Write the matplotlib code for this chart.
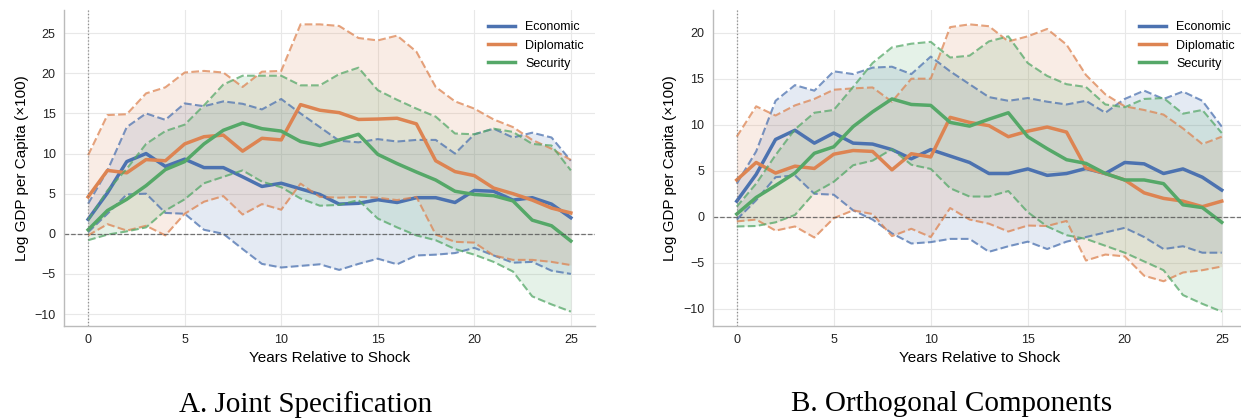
import matplotlib
matplotlib.use("Agg")
import matplotlib.pyplot as plt
import numpy as np

plt.rcParams["font.family"] = ["Liberation Sans", "DejaVu Sans"]

years = np.arange(0, 26)

# ---- Panel A: joint specification ----
a_econ = [1.8, 5.1, 9.0, 10.0, 8.4, 9.3, 8.25, 8.25, 7.1, 5.9, 6.3, 5.6, 4.9, 3.7,
          3.8, 4.25, 3.9, 4.5, 4.5, 3.9, 5.4, 5.3, 4.2, 4.5, 3.7, 2.0]
a_econ_hi = [3.75, 7.9, 13.3, 15.0, 14.2, 16.25, 15.9, 16.5, 16.2, 15.5, 16.8, 15.0, 13.3, 11.6,
             11.4, 11.8, 11.5, 11.7, 11.7, 10.0, 12.4, 13.1, 12.0, 12.6, 12.0, 9.1]
a_econ_lo = [0.2, 2.5, 4.9, 5.0, 2.6, 2.5, 0.5, 0.0, -1.9, -3.75, -4.2, -4.0, -3.8, -4.5,
             -3.75, -3.1, -3.8, -2.7, -2.6, -2.4, -1.75, -2.7, -3.6, -3.5, -4.6, -5.0]

a_dipl = [4.6, 7.9, 7.6, 9.25, 9.1, 11.2, 12.1, 12.3, 10.3, 11.9, 11.7, 16.1, 15.4, 15.1,
          14.25, 14.3, 14.4, 13.7, 9.1, 7.75, 7.25, 5.7, 5.0, 4.2, 3.2, 2.6]
a_dipl_hi = [9.8, 14.8, 14.9, 17.5, 18.25, 20.1, 20.3, 20.1, 18.3, 20.2, 20.3, 26.1, 26.1, 25.9,
             24.4, 24.1, 24.7, 22.7, 18.3, 16.5, 15.6, 14.25, 13.3, 11.7, 10.6, 9.2]
a_dipl_lo = [-0.2, 1.2, 0.4, 1.0, -0.2, 2.5, 4.0, 4.7, 2.4, 3.7, 3.0, 6.25, 4.6, 4.5,
             4.6, 4.5, 4.2, 4.6, -0.1, -1.0, -1.1, -2.7, -3.25, -3.25, -3.5, -3.9]

a_secu = [0.5, 2.9, 4.3, 6.0, 8.0, 9.0, 11.2, 12.9, 13.8, 13.1, 12.8, 11.5, 11.0, 11.7,
          12.4, 9.9, 8.75, 7.7, 6.7, 5.3, 4.9, 4.75, 4.1, 1.7, 1.0, -0.9]
a_secu_hi = [1.7, 5.4, 8.1, 11.2, 12.8, 13.6, 16.0, 18.6, 19.7, 19.7, 19.7, 18.5, 18.5, 19.9,
             20.7, 17.9, 16.7, 15.6, 14.6, 12.5, 12.4, 13.1, 12.7, 11.2, 11.0, 7.9]
a_secu_lo = [-0.8, -0.1, 0.3, 0.8, 2.9, 4.3, 6.3, 7.1, 7.9, 6.5, 5.8, 4.4, 3.5, 3.6,
             4.2, 1.9, 0.8, -0.2, -0.8, -1.9, -2.6, -3.5, -4.7, -7.8, -8.8, -9.7]

# ---- Panel B: orthogonal components ----
b_econ = [1.7, 4.6, 8.4, 9.4, 8.0, 9.1, 8.0, 7.9, 7.3, 6.3, 7.3, 6.6, 5.9, 4.7,
          4.7, 5.2, 4.5, 4.7, 5.25, 4.7, 5.9, 5.75, 4.7, 5.2, 4.3, 2.9]
b_econ_hi = [3.6, 7.1, 12.6, 14.3, 13.7, 15.8, 15.5, 16.2, 16.3, 15.5, 17.4, 15.8, 14.4, 13.0,
             12.6, 12.9, 12.5, 12.2, 12.6, 11.3, 12.8, 13.7, 12.8, 13.6, 12.6, 9.8]
b_econ_lo = [-0.3, 1.8, 4.3, 4.5, 2.5, 2.4, 0.7, -0.3, -1.8, -2.9, -2.75, -2.4, -2.4, -3.8,
             -3.2, -2.7, -3.5, -2.7, -2.2, -1.7, -1.2, -2.2, -3.5, -3.2, -3.9, -3.9]

b_dipl = [4.0, 5.9, 4.75, 5.5, 5.25, 6.8, 7.2, 7.1, 5.1, 6.85, 6.5, 10.8, 10.25, 9.9,
          8.7, 9.3, 9.75, 9.2, 5.3, 4.7, 4.0, 2.6, 2.0, 1.7, 1.1, 1.7]
b_dipl_hi = [8.7, 12.0, 11.0, 12.1, 12.8, 13.8, 13.95, 14.05, 12.5, 15.0, 15.0, 20.6, 20.9, 20.7,
             19.05, 19.6, 20.4, 18.7, 15.4, 13.3, 12.0, 11.6, 11.1, 9.6, 7.9, 8.7]
b_dipl_lo = [-0.5, -0.3, -1.5, -1.05, -2.25, -0.15, 0.7, 0.3, -2.1, -1.3, -2.2, 0.95, -0.3, -0.75,
             -1.6, -0.95, -1.0, -0.45, -4.75, -4.1, -4.3, -6.4, -7.0, -6.05, -5.8, -5.4]

b_secu = [0.3, 2.1, 3.4, 4.75, 6.9, 7.6, 9.8, 11.4, 12.8, 12.2, 12.1, 10.25, 9.85, 10.6,
          11.3, 8.7, 7.4, 6.2, 5.8, 4.7, 4.0, 4.0, 3.6, 1.3, 1.0, -0.6]
b_secu_hi = [1.1, 3.6, 6.7, 9.5, 11.3, 11.6, 14.1, 16.7, 18.4, 18.8, 19.0, 17.3, 17.5, 19.05,
             19.6, 16.7, 15.3, 14.4, 14.1, 12.2, 11.9, 12.8, 12.9, 11.2, 11.6, 9.1]
b_secu_lo = [-1.05, -1.0, -0.6, 0.2, 2.6, 3.8, 5.6, 6.1, 7.35, 5.65, 5.2, 3.1, 2.2, 2.2,
             2.8, 0.5, -1.05, -2.0, -2.4, -3.15, -3.9, -4.85, -5.8, -8.5, -9.45, -10.3]

labels = ["Economic", "Diplomatic", "Security"]
colors = ["#4C72B0", "#DD8452", "#55A868"]
captions = ["A. Joint Specification", "B. Orthogonal Components"]

panels = [
    [(a_econ, a_econ_lo, a_econ_hi), (a_dipl, a_dipl_lo, a_dipl_hi), (a_secu, a_secu_lo, a_secu_hi)],
    [(b_econ, b_econ_lo, b_econ_hi), (b_dipl, b_dipl_lo, b_dipl_hi), (b_secu, b_secu_lo, b_secu_hi)],
]

fig = plt.figure(figsize=(12.41, 4.19), dpi=100)
ax_rects = [[64 / 1241, 93 / 419, 531 / 1241, 316 / 419],
            [712.5 / 1241, 93 / 419, 533.5 / 1241, 316 / 419]]
caption_x = [306 / 1241, 952 / 1241]

for rect, series, caption, cx in zip(ax_rects, panels, captions, caption_x):
    ax = fig.add_axes(rect)
    for (mean, lo, hi), lab, col in zip(series, labels, colors):
        ax.fill_between(years, lo, hi, color=col, alpha=0.15, linewidth=0)
        ax.plot(years, hi, color=col, lw=1.5, ls="--", alpha=0.75)
        ax.plot(years, lo, color=col, lw=1.5, ls="--", alpha=0.75)
        ax.plot(years, mean, color=col, lw=2.5, label=lab)
    ax.axhline(0, color="#555555", lw=0.9, ls="--", alpha=0.8)
    ax.axvline(0, color="#777777", lw=0.9, ls=":", alpha=0.8)

    ax.set_xticks([0, 5, 10, 15, 20, 25])
    ax.grid(True, color="#e8e8e8", lw=0.8)
    ax.set_axisbelow(True)
    for side in ["top", "right"]:
        ax.spines[side].set_visible(False)
    for side in ["left", "bottom"]:
        ax.spines[side].set_color("#bbbbbb")
        ax.spines[side].set_linewidth(1.0)
    ax.tick_params(length=0, labelsize=9, colors="#222222", pad=6)
    ax.set_xlabel("Years Relative to Shock", fontsize=11, labelpad=3)
    ax.set_ylabel("Log GDP per Capita (\u00d7100)", fontsize=11)
    ax.legend(loc="upper right", frameon=False, fontsize=9, handlelength=2.2)

    fig.text(cx, 0.035, caption, ha="center", va="center",
             family="Liberation Serif", fontsize=21)

fig.savefig("out.png", dpi=100)
